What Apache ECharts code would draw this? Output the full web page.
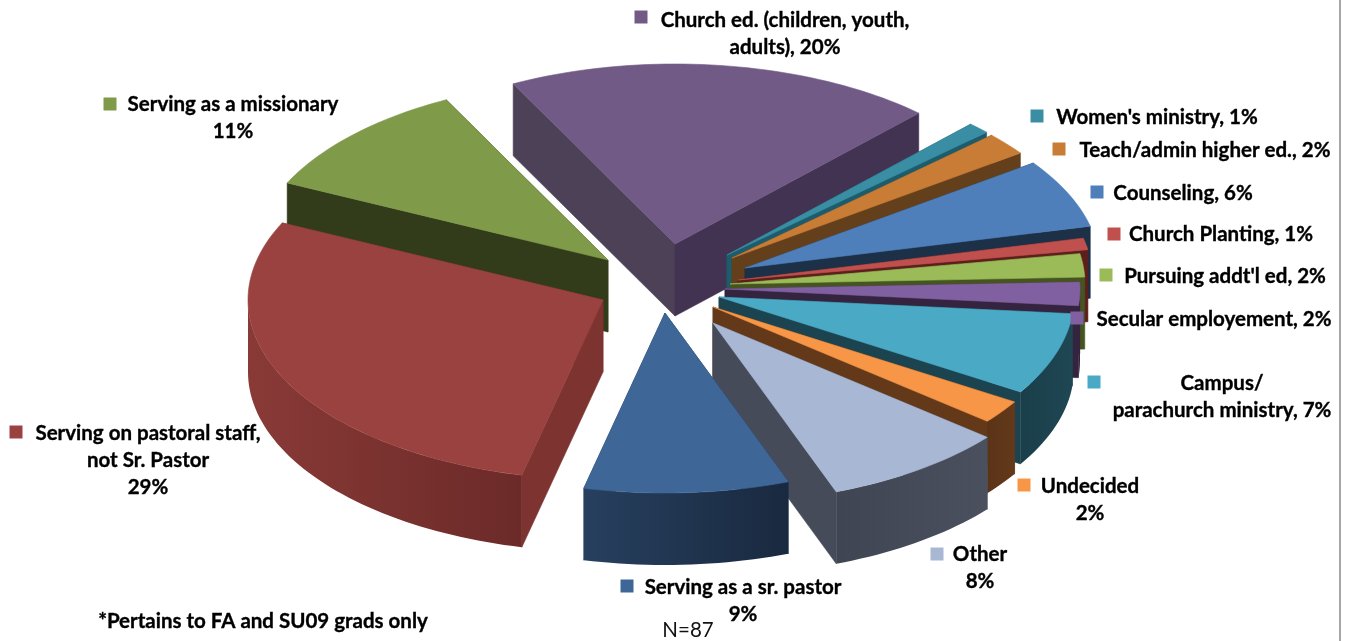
<!DOCTYPE html>
<html>
<head>
<meta charset="utf-8">
<style>html,body{margin:0;padding:0;background:#fff}#c{width:1351px;height:641px}</style>
<script src="https://cdn.jsdelivr.net/npm/echarts@6/dist/echarts.min.js"></script>
</head>
<body>
<div id="c"></div>
<script>
// ---- data ----
const categories = ["Church ed. (children, youth, adults)", "Women's ministry", "Teach/admin higher ed.", "Counseling", "Church Planting", "Pursuing addt'l ed", "Secular employement", "Campus/parachurch ministry", "Undecided", "Other", "Serving as a sr. pastor", "Serving on pastoral staff, not Sr. Pastor", "Serving as a missionary"];
const percents = [20, 1, 2, 6, 1, 2, 2, 7, 2, 8, 9, 29, 11];

// ---- style ----
const topColors  = ['#725a87','#3a8ea4','#c97c36','#4f7fbb','#c0504d','#9bbb59','#8060a0','#4aa9c4','#f79646','#a8b7d4','#3e6798','#994240','#7f9a48'];
const faceColors = ['#433352','#1c5c6c','#63401b','#1c3048','#5c1f1d','#46541f','#35243f','#1c4350','#63391a','#454b58','#1f3350','#7d3330','#333c1a'];
const wallFrom   = ['#4c4157','#1c5c6c','#63401b','#1c3048','#5c1f1d','#46541f','#35243f','#1f4653','#63391a','#4a505d','#27405f','#893a37','#333c1a'];
const wallTo     = ['#433352','#1c5c6c','#63401b','#1c3048','#5c1f1d','#46541f','#35243f','#1a3f4b','#5b3317','#3f4552','#19293f','#6b2a28','#333c1a'];
const leftFaceColors = {0:'#4c4157'};

// ---- 3-D pie projection ----
const cx = 668, cy = 278, rx = 355, ry = 180, depth = 72, startAngle = -28.7;
// Excel's perspective shifts the drawn angle of a slice edge a little
const warpAmp = 3.1, warpPhase = 32;
// how far each slice is pulled out of the pie (Excel per-point explosion)
const explodeX = [7, 59, 64, 77, 70, 62, 57, 51, 45, 45, -3, -65, -60];
const explodeY = [-34, -23, -20, -10, 2, 6, 11, 19, 29, 45, 35, 22, -18];

const total = percents.reduce((a, b) => a + b, 0);
const RAD = Math.PI / 180;
const warp = t => t + warpAmp - warpAmp * Math.cos((t - warpPhase) * RAD);
const spans = []; let acc = startAngle;
percents.forEach(v => { const a0 = acc; acc += v / total * 360; spans.push([warp(a0), warp(acc)]); });
// paint order: from back of the pie to the front
const depthKey = spans.map(s => { let m = ((s[0] + s[1]) / 2 + 360) % 360; return Math.min(m, 360 - m); });
const rankOf = percents.map((_, i) => depthKey.filter(k => k < depthKey[i]).length);

function pt(i, deg, dz) {
  return [cx + explodeX[i] + rx * Math.sin(deg * RAD), cy + explodeY[i] - ry * Math.cos(deg * RAD) + (dz || 0)];
}
function arc(i, a0, a1, dz) {
  const n = Math.max(2, Math.ceil(Math.abs(a1 - a0) / 1.5)), out = [];
  for (let k = 0; k <= n; k++) out.push(pt(i, a0 + (a1 - a0) * k / n, dz));
  return out;
}
function pt2(i) { return [cx + explodeX[i], cy + explodeY[i]]; }
function renderSlice(params, api) {
  const i = params.dataIndex, s = spans[i], z = rankOf[i] * 10 + 1;
  const apex = pt2(i), kids = [];
  const poly = (points, fill, z2, stroke) => kids.push({
    type: 'polygon', z2, shape: { points },
    style: { fill, stroke: stroke || fill, lineWidth: 0.6 }, silent: true
  });
  const apexB = [apex[0], apex[1] + depth];
  const p0 = pt(i, s[0]), p0b = pt(i, s[0], depth), p1 = pt(i, s[1]), p1b = pt(i, s[1], depth);
  poly([apex, p0, p0b, apexB], leftFaceColors[i] || faceColors[i], z);
  poly([apex, p1, p1b, apexB], faceColors[i], z + 1);
  const w0 = Math.max(s[0], 90), w1 = Math.min(s[1], 270);
  if (w1 > w0) {
    const darkRight = (i === 10 || i === 11);
    const grad = new echarts.graphic.LinearGradient(0, 0, 1, 0,
      darkRight ? [{ offset: 0, color: wallFrom[i] }, { offset: 1, color: wallTo[i] }]
                : [{ offset: 0, color: wallTo[i] }, { offset: 1, color: wallFrom[i] }]);
    poly(arc(i, w0, w1, 0).concat(arc(i, w1, w0, depth)), grad, z + 2, 'none');
  }
  poly([apex].concat(arc(i, s[0], s[1], 0)), topColors[i], z + 3);
  return { type: 'group', children: kids };
}

// ---- labels ----
const labelLines = [
  ['Church ed. (children, youth,', 'adults), 20%'],
  ["Women's ministry, 1%"],
  ['Teach/admin higher ed., 2%'],
  ['Counseling, 6%'],
  ['Church Planting, 1%'],
  ["Pursuing addt'l ed, 2%"],
  ['Secular employement, 2%'],
  ['Campus/', 'parachurch ministry, 7%'],
  ['Undecided', '2%'],
  ['Other', '8%'],
  ['Serving as a sr. pastor', '9%'],
  ['Serving on pastoral staff,', 'not Sr. Pastor', '29%'],
  ['Serving as a missionary', '11%']
];
const labelCenterX = [785, 1157, 1205, 1183, 1221, 1225, 1214, 1222, 1090, 980, 743, 148, 233];
const labelTopY    = [20, 117, 150, 193, 234, 276, 319, 383, 486, 554, 587, 433, 104];
const squareX = [641, 1037, 1059, 1097, 1114, 1106, 1077, 1094, 1024, 937, 627, 16, 110];
const squareY = [17, 116, 149, 192, 234, 275, 318, 382, 485, 554, 586, 432, 104];
const lineStep = 27.3;
const font = '"Lato","Carlito","Noto Sans",sans-serif';
const boldFont = 'bold 20.5px ' + font;

const graphics = [];
const boldText = (t, x, y) => graphics.push({ type: 'text', z: 51, x, y,
  style: { text: t, fill: '#000', stroke: '#000', lineWidth: 0.35, font: boldFont, textAlign: 'center', textVerticalAlign: 'middle' } });
labelLines.forEach((lines, i) => {
  graphics.push({ type: 'rect', z: 50, shape: { x: squareX[i] - 6.5, y: squareY[i] - 6.5, width: 13, height: 13 }, style: { fill: topColors[i] } });
  lines.forEach((t, k) => boldText(t, labelCenterX[i], labelTopY[i] + k * lineStep));
});
boldText('*Pertains to FA and SU09 grads only', 263, 621);
graphics.push({ type: 'text', z: 51, x: 688, y: 630, style: { text: 'N=87', fill: '#111', font: '20.5px ' + font, textAlign: 'center', textVerticalAlign: 'middle' } });
graphics.push({ type: 'rect', z: 1, shape: { x: 1339, y: 0, width: 2, height: 641 }, style: { fill: '#a6a6a6' } });

const chart = echarts.init(document.getElementById('c'), null, { renderer: 'canvas' });
chart.setOption({
  animation: false,
  backgroundColor: '#fff',
  graphic: { elements: graphics },
  series: [{
    type: 'custom',
    coordinateSystem: 'none',
    renderItem: renderSlice,
    data: percents.map((v, i) => ({ name: categories[i], value: v })),
    silent: true
  }]
});
</script>
</body>
</html>
